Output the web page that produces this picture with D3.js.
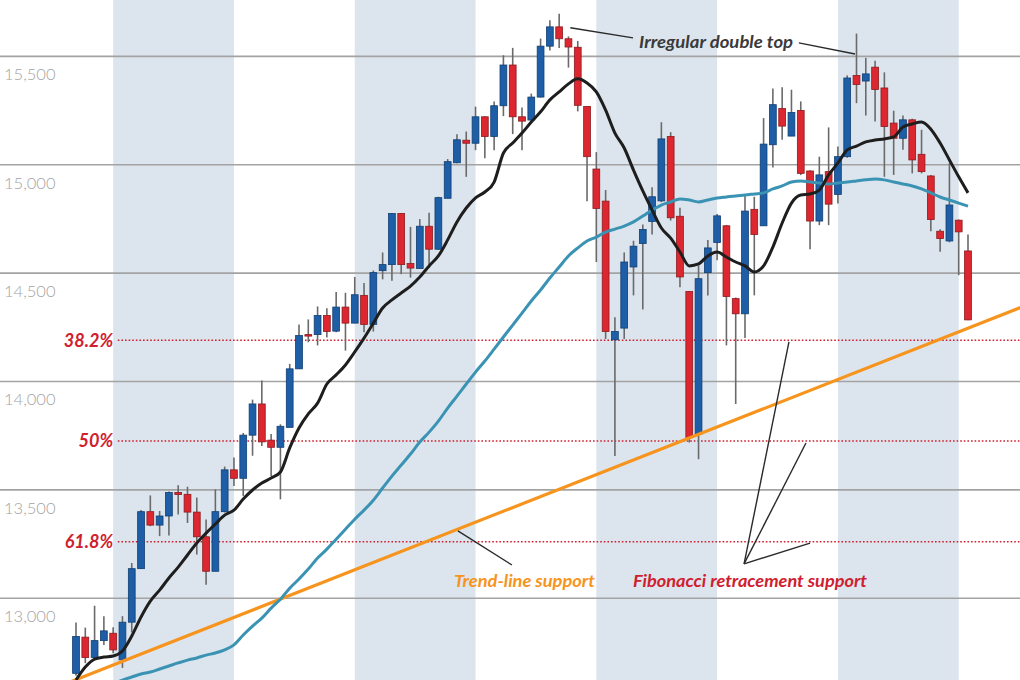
<!DOCTYPE html>
<html><head><meta charset="utf-8">
<script src="https://cdn.jsdelivr.net/npm/d3@7"></script>
<style>body{margin:0;background:#fff}svg{display:block}</style>
</head><body><svg id="c" width="1020" height="680"></svg>
<script>
// ---- data (weekly candles) ----
const opens = [12651,12818,12724,12802,12836,12713,12887,13134,13397,13335,
13377,13485,13477,13395,13281,13122,13397,13590,13551,13750,
13894,13727,13694,13786,14056,14214,14214,14302,14230,14341,
14267,14395,14261,14509,14537,14773,14542,14519,14714,14608,
14843,15007,15111,15097,15219,15128,15270,15458,15219,15204,
15310,15545,15634,15579,15540,15267,14978,14830,14190,14244,
14526,14634,14736,14831,15128,14760,14413,13755,14500,14639,
14716,14380,14310,14792,14716,15090,15257,15130,15248,14969,
14738,14966,14861,15035,15410,15384,15448,15352,15190,15120,
15205,15046,14946,14691,14646,14742,14600];
const highs = [12886,12862,12963,12914,12864,12915,13160,13405,13472,13400,
13490,13519,13512,13462,13361,13500,13605,13647,13760,13914,
14002,13755,13800,14079,14261,14284,14344,14336,14410,14407,
14480,14452,14510,14593,14775,14775,14711,14747,14776,14850,
15024,15139,15151,15266,15222,15290,15503,15537,15262,15326,
15580,15664,15694,15590,15569,15267,15056,14881,14294,14593,
14647,14722,14894,15194,15148,14799,14415,14534,14650,14770,
14720,14385,14855,14850,15213,15349,15355,15344,15290,14972,
15035,15170,15082,15410,15603,15491,15478,15424,15247,15225,
15210,15159,14950,14700,15005,14745,14676];
const lows = [12640,12698,12722,12782,12744,12676,12840,13134,13330,13284,
13287,13384,13345,13199,13060,13122,13393,13515,13469,13655,
13700,13562,13454,13786,14056,14179,14164,14201,14225,14140,
14267,14225,14228,14469,14463,14493,14477,14519,14521,14605,
14843,15005,14942,15065,15028,15065,15222,15139,15065,15200,
15308,15525,15537,15446,15244,14829,14549,14194,13654,14194,
14395,14330,14676,14825,14740,14433,13716,13639,14395,14557,
14164,13894,14198,14395,14716,14985,15113,15130,14950,14608,
14719,14719,14819,15030,15282,15225,15197,14942,14951,15067,
14958,14958,14691,14596,14640,14488,14280];
const closes = [12821,12724,12802,12847,12759,12887,13134,13397,13335,13377,
13485,13476,13395,13281,13122,13397,13590,13551,13750,13894,
13719,13694,13791,14056,14210,14210,14302,14228,14341,14267,
14398,14261,14500,14537,14773,14537,14521,14714,14608,14846,
15012,15113,15097,15219,15128,15270,15458,15219,15199,15310,
15545,15634,15579,15541,15272,15035,14796,14228,14228,14549,
14622,14699,14850,15117,14753,14480,13739,14472,14614,14762,
14390,14310,14784,14676,15093,15275,15176,15239,14958,14738,
14951,14816,15035,15398,15368,15417,15345,15174,15120,15205,
15020,14966,14745,14657,14812,14688,14282];
// short moving average (black), one value per week from week 0
const maShort = [12620,12680,12717,12726,12731,12754,12823,12911,12984,13035,
13091,13141,13197,13252,13298,13340,13381,13404,13455,13497,
13529,13552,13580,13691,13783,13848,13898,13986,14028,14074,
14134,14198,14267,14337,14374,14406,14438,14480,14531,14577,
14651,14734,14798,14845,14872,14918,15052,15098,15144,15195,
15242,15297,15334,15371,15394,15375,15334,15250,15144,15075,
14973,14877,14789,14706,14659,14595,14531,14540,14577,14595,
14572,14549,14531,14503,14531,14618,14729,14821,14858,14863,
14881,14951,15006,15066,15084,15103,15112,15117,15126,15172,
15186,15195,15162,15098,15020,14942,14868];
// long moving average (teal), from week 4 on
const maLongStart = 4;
const maLong = [12602,12620,12634,12648,12657,12671,12685,12699,12712,12722,
12735,12745,12759,12782,12828,12869,12906,12952,12993,13044,
13086,13132,13183,13224,13270,13316,13362,13404,13450,13506,
13561,13612,13663,13718,13764,13815,13875,13930,13986,14041,
14092,14147,14203,14258,14313,14369,14420,14475,14526,14577,
14614,14646,14664,14687,14701,14715,14734,14761,14789,14812,
14826,14840,14835,14826,14835,14844,14849,14854,14858,14863,
14868,14886,14900,14918,14923,14918,14914,14909,14914,14918,
14923,14928,14932,14928,14918,14909,14900,14886,14868,14849,
14835,14821,14807];
const yTicks = [13000,13500,14000,14500,15000,15500];
const fibLevels = [14188,13723,13258];
const fibLabels = ["38.2%","50%","61.8%"];
const bandStarts = [4,30,56,82];
const bandLength = 13;
const trendWeeks = [-1,102];
const trendValues = [12605,14345];

// ---- drawing ----
const W = 1020, H = 680;
const svg = d3.select("#c");
const x = d3.scaleLinear().domain([0,96]).range([76,968]);
const y = d3.scaleLinear().domain([13000,15500]).range([597.7,55.9]);
const BLUE = "#1d5ea7", RED = "#dc2730", TEAL = "#3b93b4", ORANGE = "#f7941d", FIBRED = "#d0202e";
const FONT = "Lato, 'Open Sans', sans-serif";

// quarter bands
svg.append("g").selectAll("rect").data(bandStarts).join("rect")
  .attr("x", d => x(d)).attr("y", 0)
  .attr("width", d => x(d + bandLength) - x(d)).attr("height", H)
  .attr("fill", "#dce5ed");

// grid + tick labels via axis
const axis = d3.axisRight(y).tickValues(yTicks).tickSize(W).tickFormat(d3.format(","));
const gAxis = svg.append("g").call(axis);
gAxis.select(".domain").remove();
gAxis.selectAll(".tick line").attr("stroke", "#a3a3a3").attr("stroke-width", 1.6);
gAxis.selectAll(".tick text").attr("x", 4).attr("dy", 0).attr("y", 24)
  .attr("text-anchor", "start").attr("fill", "#a3a3a3")
  .style("font-family", FONT).style("font-size", "16.5px").style("font-weight", 300);

// fibonacci levels
const gFib = svg.append("g");
gFib.selectAll("line").data(fibLevels).join("line")
  .attr("x1", x(4.5)).attr("x2", W)
  .attr("y1", d => y(d)).attr("y2", d => y(d))
  .attr("stroke", FIBRED).attr("stroke-width", 1.6).attr("stroke-dasharray", "1.6,2");
gFib.selectAll("text").data(fibLevels).join("text")
  .attr("x", x(4.0)).attr("y", d => y(d)).attr("dy", "0.36em")
  .attr("text-anchor", "end").attr("fill", FIBRED)
  .style("font-family", FONT).style("font-size", "18px").style("font-weight", 700).style("font-style", "italic")
  .text((d, i) => fibLabels[i]);

// candles
const idx = d3.range(opens.length);
const gC = svg.append("g");
gC.selectAll("line").data(idx).join("line")
  .attr("x1", i => x(i)).attr("x2", i => x(i))
  .attr("y1", i => y(highs[i])).attr("y2", i => y(lows[i]))
  .attr("stroke", "#6a6a6a").attr("stroke-width", 1.6);
const bw = 6.8;
gC.selectAll("rect").data(idx).join("rect")
  .attr("x", i => x(i) - bw / 2).attr("width", bw)
  .attr("y", i => y(Math.max(opens[i], closes[i])))
  .attr("height", i => Math.max(1.5, Math.abs(y(opens[i]) - y(closes[i]))))
  .attr("fill", i => closes[i] >= opens[i] ? BLUE : RED)
  .attr("stroke", i => closes[i] >= opens[i] ? "#123f72" : "#8e1a1f").attr("stroke-width", 0.8);

// trend line
svg.append("path")
  .datum(trendWeeks.map((w, i) => [w, trendValues[i]]))
  .attr("d", d3.line().x(d => x(d[0])).y(d => y(d[1])))
  .attr("fill", "none").attr("stroke", ORANGE).attr("stroke-width", 3.2);

// moving averages
svg.append("path")
  .datum(maLong.map((v, i) => [i + maLongStart, v]))
  .attr("d", d3.line().curve(d3.curveMonotoneX).x(d => x(d[0])).y(d => y(d[1])))
  .attr("fill", "none").attr("stroke", TEAL).attr("stroke-width", 3);
svg.append("path")
  .datum(maShort.map((v, i) => [i, v]))
  .attr("d", d3.line().curve(d3.curveMonotoneX).x(d => x(d[0])).y(d => y(d[1])))
  .attr("fill", "none").attr("stroke", "#1e1e1e").attr("stroke-width", 3);

// annotations
const gA = svg.append("g");
const leader = (a, b) => gA.append("line")
  .attr("x1", x(a[0])).attr("y1", y(a[1])).attr("x2", x(b[0])).attr("y2", y(b[1]))
  .attr("stroke", "#2a2a2a").attr("stroke-width", 1.4);
leader([53.2, 15630], [59.95, 15583]);
leader([77.8, 15560], [83.84, 15509]);
leader([41.1, 13308], [46.92, 13151]);
leader([71.9, 13156], [76.73, 14180]);
leader([71.9, 13156], [78.56, 13714]);
leader([71.9, 13156], [79.0, 13252]);
const label = (w, v, txt, col, len) => gA.append("text")
  .attr("x", x(w)).attr("y", y(v)).attr("fill", col)
  .attr("textLength", len).attr("lengthAdjust", "spacingAndGlyphs")
  .style("font-family", FONT).style("font-size", "17px").style("font-weight", 700).style("font-style", "italic")
  .text(txt);
label(60.6, 15537, "Irregular double top", "#3a3a3a", 154);
label(40.68, 13049, "Trend-line support", ORANGE, 141);
label(59.95, 13049, "Fibonacci retracement support", FIBRED, 234);
</script>
</body></html>
